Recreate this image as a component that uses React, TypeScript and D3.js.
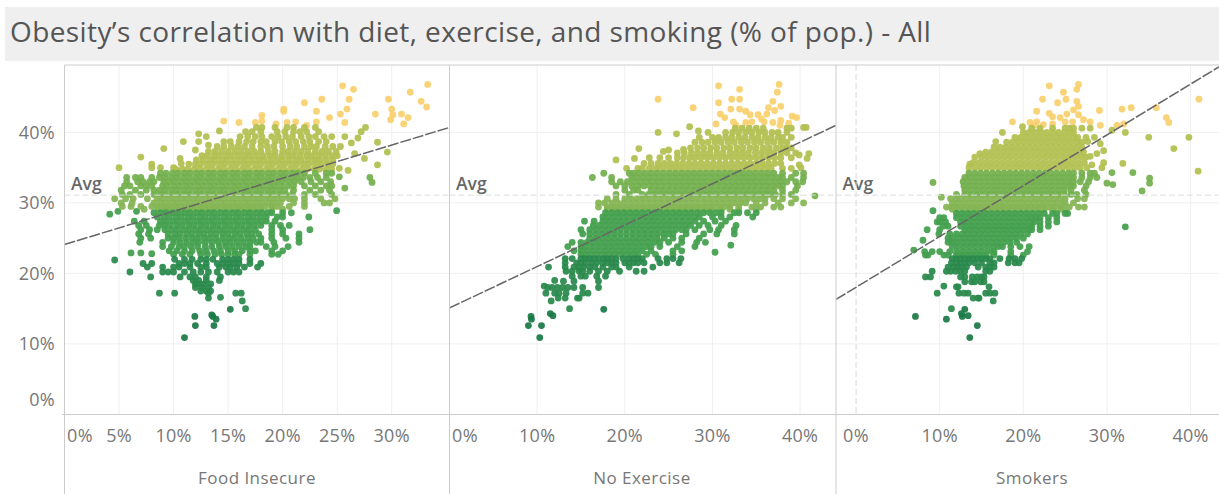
import { scaleLinear, scaleThreshold } from 'd3'

const TITLE = 'Obesity\u2019s correlation with diet, exercise, and smoking (% of pop.) - All'
const Y_TICKS = [0, 10, 20, 30, 40]
const FOOD_TICKS = [0, 5, 10, 15, 20, 25, 30]
const PCT_TICKS = [0, 10, 20, 30, 40]
const AVG_OBESITY = 31.1
const BAND_LIMITS = [15, 22.4, 29, 31, 34.4, 41]
const BAND_COLORS = ['#1c7a47', '#2c8a4d', '#44a04f', '#86b655', '#74b04f', '#b3c052', '#f9d06e']

// [x, obesity] for the scattered counties
const foodSparse = [
  [25.5, 46.6], [26.5, 46.1], [33.3, 46.8], [31.7, 45.7], [32.7, 44.4], [33.2, 43.6], [29.7, 44.7], [26.1, 44.7], [23.6, 44.7], [22, 44.2], [20.1, 43.3], [20.1, 43], [23.1, 43], [25.9, 43.3], [25.3, 42.6], [24.3, 42.1], [28.5, 42.6], [30, 43.3], [30.1, 42.5], [29.9, 41.8], [30.9, 42.6], [31.5, 42.1], [31.1, 41.2], [25.7, 41.4], [18.1, 42.4], [18.1, 41.6], [17.5, 41.4], [14.6, 41.6], [16, 41.4], [19.4, 41.2], [20.4, 41.4], [21.2, 41.5], [22.2, 41], [23.1, 41.5],
  [12.3, 39.8], [14.2, 40.2], [10.9, 38.7], [12.3, 38.7], [13, 39.4], [9.1, 37.7], [7, 36.5], [8, 35.5], [8, 35], [5, 35], [8.8, 35], [10, 35], [10.6, 36.3], [10.7, 35.6], [12, 37.5], [13.2, 38.2], [27.6, 40.7], [27.2, 40.1], [26.9, 39.2], [28.7, 38.6], [29.6, 37.2], [28.7, 35.4], [27.5, 36.3], [26.6, 37], [26.3, 38.5], [25.7, 39.4],
  [4.15, 28.4], [4.9, 28.8], [6.6, 28.8], [24.95, 28.9], [28, 33.6], [28.2, 32.9], [25.7, 32.1], [26, 34.6], [25.2, 34.9], [25.2, 33.7],
  [4.6, 21.9], [6.1, 22.9], [7, 22.9], [8, 22.8], [8.7, 17.2], [10.1, 17.2], [13.2, 17.2], [15.7, 17.2], [16.2, 17.2], [14.3, 16.6], [13.2, 16.5], [16.3, 16.1], [16.6, 15], [15.2, 14.9], [11.95, 13.9], [13.5, 14.1], [13.6, 13.9], [13.9, 13.5], [12, 12.6], [13.7, 12.6], [11, 10.9],
]

// [obesity, x values] for the packed rows
const foodRows: [number, number[]][] = [
  [40.7, [17.6, 18.1, 19.3, 20.4, 21, 22, 23]],
  [40.1, [16.6, 17.2, 18, 19.5, 20.2, 21, 21.6, 22.2, 23.3]],
  [39.4, [16.1, 16.8, 17.5, 18.1, 19, 19.6, 20.3, 20.9, 21.7, 22.4, 23, 23.8, 24.5]],
  [38.7, [14.6, 15.2, 16, 16.7, 17.3, 18, 18.5, 19.3, 19.9, 20.6, 21.2, 21.9, 22.5, 23.3, 24]],
  [38, [14, 14.6, 15.3, 15.9, 16.5, 17.2, 18, 18.6, 19.2, 20, 20.7, 21.3, 22, 22.6, 23.1, 23.9, 24.6, 25.3]],
  [37.3, [13.2, 13.8, 14.4, 15, 15.6, 16.2, 16.8, 17.4, 18, 18.7, 19.3, 20, 20.5, 21.1, 21.7, 22.3, 23, 23.6, 24.2, 24.9]],
  [36.7, [12.6, 13.1, 13.7, 14.2, 14.8, 15.3, 15.9, 16.5, 17, 17.6, 18.2, 18.8, 19.3, 19.9, 20.5, 21, 21.6, 22.2, 22.7, 23.3, 23.9, 24.5, 25]],
  [36.1, [12.1, 12.7, 13.3, 13.8, 14.4, 14.9, 15.5, 16.1, 16.6, 17.2, 17.8, 18.3, 18.9, 19.5, 20, 20.6, 21.2, 21.7, 22.3, 22.9, 23.4, 24, 24.6]],
  [35.5, [11.4, 12, 12.5, 13.1, 13.6, 14.2, 14.7, 15.3, 15.8, 16.4, 16.9, 17.5, 18, 18.6, 19.1, 19.7, 20.2, 20.8, 21.3, 21.9, 22.4, 23, 23.5, 24.1, 24.6]],
  [34.8, [10.2, 10.8, 11.3, 11.9, 12.4, 13, 13.5, 14.1, 14.6, 15.2, 15.7, 16.3, 16.8, 17.4, 17.9, 18.5, 19, 19.6, 20.1, 20.7, 21.2, 21.8, 22.3, 22.9, 23.4, 24, 24.5]],
  [34.2, [8.8, 9.3, 9.9, 10.4, 11, 11.5, 12.1, 12.6, 13.2, 13.7, 14.3, 14.8, 15.4, 15.9, 16.5, 17, 17.6, 18.1, 18.7, 19.2, 19.8, 20.3, 20.9, 21.4, 22, 23, 24, 24.5]],
  [33.6, [5.7, 6.5, 7, 8, 8.7, 9.2, 9.8, 10.3, 10.9, 11.4, 12, 12.5, 13.1, 13.6, 14.2, 14.7, 15.3, 15.8, 16.4, 16.9, 17.5, 18, 18.6, 19.1, 19.7, 20.2, 20.8, 21.3, 21.9, 22.5, 23.2, 24]],
  [33, [5.7, 6.7, 7.2, 7.8, 8.2, 9.1, 9.6, 10.1, 10.7, 11.2, 11.8, 12.3, 12.9, 13.4, 14, 14.5, 15.1, 15.6, 16.2, 16.7, 17.3, 17.8, 18.4, 18.9, 19.5, 20, 20.6, 21.1, 21.7, 22.6, 23.5, 24.4]],
  [32.4, [5.5, 6, 7, 7.5, 8, 9, 9.4, 10, 10.5, 11.1, 11.6, 12.2, 12.7, 13.3, 13.8, 14.4, 14.9, 15.5, 16, 16.6, 17.1, 17.7, 18.2, 18.8, 19.3, 19.9, 20.5, 21, 22, 23, 24, 24.5]],
  [31.8, [5.2, 6.5, 7.5, 8.2, 8.7, 9.2, 9.8, 10.3, 10.9, 11.4, 12, 12.5, 13.1, 13.6, 14.2, 14.7, 15.3, 15.8, 16.4, 16.9, 17.5, 18, 18.6, 19.1, 19.7, 20.2, 21, 22.5, 23.5, 24.3]],
  [31.2, [5.3, 6, 7, 8.2, 8.8, 9.3, 9.9, 10.4, 11, 11.5, 12.1, 12.6, 13.2, 13.7, 14.3, 14.8, 15.4, 15.9, 16.5, 17, 17.6, 18.1, 18.7, 19.2, 19.8, 20.3, 20.9, 22, 23, 24.5]],
  [30.6, [4.6, 5.6, 6.3, 7.6, 8.5, 9, 9.6, 10.1, 10.7, 11.2, 11.8, 12.3, 12.9, 13.4, 14, 14.5, 15.1, 15.6, 16.2, 16.7, 17.3, 17.8, 18.4, 18.9, 19.5, 20, 20.6, 21.1, 22, 23.5, 24.8]],
  [30, [5.2, 6.2, 8.2, 8.8, 9.3, 9.9, 10.4, 11, 11.5, 12.1, 12.6, 13.2, 13.7, 14.3, 14.8, 15.4, 15.9, 16.5, 17, 17.6, 18.1, 18.7, 19.2, 19.8, 21, 22, 23.8, 24.3]],
  [29.5, [5.3, 6.1, 7, 8, 8.5, 9.1, 9.6, 10.2, 10.7, 11.3, 11.8, 12.4, 12.9, 13.5, 14, 14.6, 15.1, 15.7, 16.2, 16.8, 17.3, 17.9, 18.4, 19, 19.5, 20.6, 22]],
  [29.1, [7.3, 8.6, 9.2, 9.7, 10.3, 10.8, 11.4, 11.9, 12.5, 13, 13.6, 14.1, 14.7, 15.2, 15.8, 16.3, 16.9, 17.4, 18, 19, 20]],
  [28.6, [8.2, 8.8, 9.3, 9.9, 10.4, 11, 11.5, 12.1, 12.6, 13.2, 13.7, 14.3, 14.8, 15.4, 15.9, 16.5, 17, 17.6, 18.1, 18.6, 19, 20, 20.8]],
  [28, [8.5, 9.1, 9.6, 10.2, 10.7, 11.3, 11.8, 12.4, 12.9, 13.5, 14, 14.6, 15.1, 15.7, 16.2, 16.8, 17.3, 17.9, 18.5, 19.5, 20, 22.4]],
  [27.4, [6.4, 7.3, 8.8, 9.3, 9.9, 10.4, 11, 11.5, 12.1, 12.6, 13.2, 13.7, 14.3, 14.8, 15.4, 15.9, 16.5, 17, 17.6, 18.1, 18.5, 19.3]],
  [26.8, [6.8, 7.5, 8.7, 9.2, 9.7, 10.3, 10.8, 11.4, 11.9, 12.5, 13, 13.6, 14.1, 14.7, 15.2, 15.8, 16.3, 16.9, 17.4, 18, 19, 19.8, 20.6]],
  [26.2, [7, 7.8, 8.5, 9.2, 9.8, 10.3, 10.9, 11.4, 12, 12.5, 13.1, 13.6, 14.2, 14.7, 15.3, 15.8, 16.4, 16.9, 17.5, 19, 20, 22.5]],
  [25.6, [6.8, 7.7, 9.5, 10.1, 10.6, 11.2, 11.7, 12.3, 12.8, 13.4, 13.9, 14.5, 15, 15.6, 16.1, 16.7, 17.2, 17.8, 19, 20, 21.5]],
  [25, [7, 7.9, 9.5, 10, 10.5, 11.1, 11.7, 12.2, 12.8, 13.3, 13.9, 14.5, 15.1, 15.6, 16.2, 16.8, 17.3, 18, 19, 20.3, 21.5]],
  [24.4, [6.9, 9, 10, 10.6, 11.2, 11.8, 12.3, 12.9, 13.5, 14.1, 14.7, 15.2, 15.8, 16.4, 17, 17.6, 18, 19.2, 21.5]],
  [23.8, [9, 9.8, 10.5, 11, 11.6, 12.2, 12.9, 13.5, 14.2, 14.8, 15.4, 16, 16.6, 17, 18.5, 19.3, 20.5]],
  [23.2, [9.6, 10.3, 11, 11.7, 12.4, 13, 13.7, 14.3, 15, 15.6, 16.3, 17, 17.5, 19, 20]],
  [22.7, [10, 10.8, 11.5, 12.5, 13.1, 13.8, 14.4, 15, 15.6, 16, 17, 19, 19.6]],
  [22, [10.1, 11, 11.7, 12.5, 13, 13.6, 14.5, 15, 15.5, 16, 17]],
  [21.4, [7.2, 8, 10.5, 11, 11.5, 12.2, 13, 14, 14.5, 15, 15.5, 16, 17, 18]],
  [20.9, [7.6, 9, 10, 10.5, 11.5, 12.5, 13, 14.2, 14.8, 15.2, 15.8, 16.5, 17.7]],
  [20.2, [6, 9, 9.5, 10, 11, 11.8, 12.5, 13.2, 14, 15, 15.5, 16]],
  [19.5, [7.9, 10.6, 11.5, 12, 13, 14.3]],
  [19, [11.8, 12.3, 13, 14.2]],
  [18.5, [12, 12.3, 12.8, 13.4]],
  [18, [12, 12.6, 13.2]],
  [17.5, [12.5, 13, 13.4]],
]

const exerciseSparse = [
  [30.7, 46.6], [33.1, 46.1], [37.6, 46.8], [37.4, 45.7], [23.8, 44.7], [30.7, 44.2], [32.2, 44.7], [33.1, 44.7], [36.9, 44.4], [27.8, 43.5], [32.1, 43.3], [33.1, 43.3], [36.4, 43.5], [37.8, 43.7], [37.1, 43.1], [30.9, 42.6], [31.4, 42.1], [33.8, 43], [34.3, 42.5], [35.2, 42.5], [36.2, 42.6], [35.6, 41.9], [32.4, 41.5], [36.9, 41.4], [37.8, 41.7], [39.1, 42.3], [39.6, 42.1], [38.7, 41.3], [30.4, 41.2], [33.8, 41.4], [34.5, 41.5], [35.9, 41.5], [32.7, 41], [37.7, 41],
  [23.8, 40], [25.9, 39.8], [27.4, 40.8], [28.4, 40.2], [40.4, 40.7], [40.7, 40.7], [21.6, 37.7], [19, 36.1], [21.1, 36.3], [20.2, 34.9], [24.4, 37.3], [25, 37.5], [26.7, 37.6], [41, 37], [40.8, 36.3], [39.9, 36.8], [39.9, 35.4], [40.1, 35],
  [41.7, 31], [32.1, 24], [30.3, 23], [11.3, 20.9], [12, 19], [10.8, 18.2], [11.6, 16.1], [13.7, 15], [17.6, 14.9], [11.5, 14.3], [11.8, 14], [9.3, 13.9], [9.35, 13.5], [9, 12.6], [10.5, 12.6], [10.3, 10.9],
]

const exerciseRows: [number, number[]][] = [
  [40.6, [32.6, 33.4, 34.2, 35, 35.8, 38.5, 39]],
  [40, [29.5, 31.5, 32.3, 33, 33.8, 34.5, 35.3, 36, 36.8, 37.5, 38.5]],
  [39.3, [28.5, 30, 30.7, 31.5, 32.2, 33, 33.7, 34.5, 35.2, 36, 36.7, 37.5, 38, 39]],
  [38.6, [28, 28.8, 29.5, 30.3, 31, 31.8, 32.5, 33.3, 34, 34.8, 35.5, 36.3, 37, 37.8, 38.5]],
  [37.8, [27.5, 28.3, 29, 29.8, 30.5, 31.3, 32, 32.8, 33.5, 34.3, 35, 35.8, 36.5, 37.3, 38, 38.5, 39]],
  [37.1, [26, 26.8, 27.6, 28.3, 29, 29.7, 30.5, 31.2, 32, 32.7, 33.4, 34.1, 34.9, 35.6, 36.3, 37, 37.8, 38.5, 39.5]],
  [36.4, [22.8, 24, 25, 26, 26.7, 27.4, 28, 28.7, 29.4, 30.1, 30.8, 31.5, 32.2, 32.9, 33.6, 34.3, 35, 35.7, 36.4, 37.1, 37.8, 39]],
  [35.6, [22.2, 23, 23.8, 24.5, 25.2, 25.9, 26.6, 27.3, 28, 28.7, 29.4, 30.1, 30.8, 31.5, 32.2, 32.9, 33.6, 34.3, 35, 35.7, 36.4, 37.1, 37.8]],
  [34.9, [21.5, 22, 22.8, 23.5, 24.1, 24.8, 25.5, 26.2, 26.9, 27.6, 28.3, 29, 29.7, 30.4, 31.1, 31.8, 32.5, 33.2, 33.9, 34.6, 35.3, 36, 36.7, 38, 39]],
  [34.2, [17.6, 20.5, 21, 21.6, 22.3, 23, 23.7, 24.4, 25.1, 25.8, 26.5, 27.2, 27.9, 28.6, 29.3, 30, 30.7, 31.4, 32.1, 32.8, 33.5, 34.2, 34.9, 35.6, 36.3, 37, 38, 39.5, 40.4]],
  [33.6, [16.3, 18.5, 20.8, 21.4, 22.1, 22.8, 23.5, 24.2, 24.9, 25.6, 26.3, 27, 27.7, 28.4, 29.1, 29.8, 30.5, 31.2, 31.9, 32.6, 33.3, 34, 34.7, 35.4, 36.1, 36.8, 37.5, 38, 39, 40.4]],
  [33, [18.5, 19.5, 20.3, 21, 21.7, 22.4, 23.1, 23.8, 24.5, 25.2, 25.9, 26.6, 27.3, 28, 28.7, 29.4, 30.1, 30.8, 31.5, 32.2, 32.9, 33.6, 34.3, 35, 35.7, 36.4, 37.1, 37.8, 38.5, 39.5, 40.3]],
  [32.4, [19, 20, 20.8, 21.5, 22.2, 22.9, 23.6, 24.3, 25, 25.7, 26.4, 27.1, 27.8, 28.5, 29.2, 29.9, 30.6, 31.3, 32, 32.7, 33.4, 34.1, 34.8, 35.5, 36.2, 36.9, 37.6, 38, 39.7]],
  [31.8, [20, 21, 21.5, 23, 23.7, 24.4, 25.1, 25.8, 26.5, 27.2, 27.9, 28.6, 29.3, 30, 30.7, 31.4, 32.1, 32.8, 33.5, 34.2, 34.9, 35.6, 36.3, 37, 38, 39.5]],
  [31.2, [19, 20.5, 22, 22.7, 23.4, 24.1, 24.8, 25.5, 26.2, 26.9, 27.6, 28.3, 29, 29.7, 30.4, 31.1, 31.8, 32.5, 33.2, 33.9, 34.6, 35.3, 36, 36.5, 37.2, 38, 39]],
  [30.6, [18, 19, 20, 20.7, 21.4, 22.1, 22.8, 23.5, 24.2, 24.9, 25.6, 26.3, 27, 27.7, 28.4, 29.1, 29.8, 30.5, 31.2, 31.9, 32.6, 33.3, 34, 34.7, 35.4, 36, 37, 38, 39.5]],
  [30, [17, 17.7, 18.5, 19.2, 19.9, 20.6, 21.3, 22, 22.7, 23.4, 24.1, 24.8, 25.5, 26.2, 26.9, 27.6, 28.3, 29, 29.7, 30.4, 31.1, 31.8, 32.5, 33.2, 33.8, 35, 36, 37.5, 39, 40.4]],
  [29.4, [17, 18, 18.7, 19.4, 20.1, 20.8, 21.5, 22.2, 22.9, 23.6, 24.3, 25, 25.7, 26.4, 27.1, 27.8, 28.5, 29.2, 29.9, 30.6, 31.3, 32, 33, 34.5, 35.5, 37, 37.8]],
  [29.1, [18, 18.7, 19.4, 20.1, 20.8, 21.5, 22.2, 22.9, 23.6, 24.3, 25, 25.7, 26.4, 27.1, 27.8, 28.5, 29.2, 29.9, 31, 32, 33, 35]],
  [28.6, [17.8, 18.5, 19.2, 19.9, 20.6, 21.3, 22, 22.7, 23.4, 24.1, 24.8, 25.5, 26.2, 26.9, 27.6, 28.3, 29, 29.7, 30.4, 31, 32.5, 33, 34, 35]],
  [28, [17.5, 18.1, 18.8, 19.5, 20.2, 20.9, 21.6, 22.3, 23, 23.7, 24.4, 25.1, 25.8, 26.5, 27.2, 27.9, 28.5, 30, 31, 32, 34.6]],
  [27.4, [15.4, 16.5, 17.5, 18.2, 18.9, 19.6, 20.3, 21, 21.7, 22.4, 23.1, 23.8, 24.5, 25.2, 25.9, 26.6, 27.3, 28, 29, 30.3, 31.5]],
  [26.8, [16.4, 17.1, 17.8, 18.5, 19.2, 19.9, 20.6, 21.3, 22, 22.7, 23.4, 24.1, 24.8, 25.5, 26.2, 26.9, 27.5, 28.5, 29.5, 31, 32.7]],
  [26.2, [15, 16, 16.7, 17.4, 18.1, 18.8, 19.5, 20.2, 20.9, 21.6, 22.3, 23, 23.7, 24.4, 25.1, 25.8, 26.5, 27, 28, 29.7, 30.7, 32.5]],
  [25.6, [15.2, 16, 16.7, 17.4, 18.1, 18.8, 19.5, 20.2, 20.9, 21.6, 22.3, 23, 23.7, 24.4, 25, 25.5, 27, 29, 30.5, 32.5]],
  [25, [16, 16.7, 17.4, 18.1, 18.8, 19.5, 20.2, 20.9, 21.6, 22.3, 23, 23.7, 24.5, 25.5, 26.5, 28.5]],
  [24.4, [14, 15, 15.7, 16.4, 17.1, 17.8, 18.5, 19.2, 19.9, 20.6, 21.3, 22, 22.7, 23.4, 24, 25, 26.5, 28.2, 29.2]],
  [23.8, [13.5, 15, 15.5, 16.2, 16.9, 17.6, 18.3, 19, 19.7, 20.4, 21.1, 21.8, 22.5, 23, 24, 26, 28]],
  [23.2, [14.2, 15, 15.7, 16.4, 17.1, 17.8, 18.5, 19.2, 19.9, 20.6, 21.3, 22, 23, 25.5, 26.5]],
  [22.7, [15, 15.5, 16.1, 16.8, 17.5, 18.2, 18.9, 19.6, 20.3, 21, 21.5, 22.5, 23.5, 25.5]],
  [22.1, [13.2, 14, 15, 15.5, 16, 16.5, 17, 17.6, 18, 18.5, 19, 19.8, 20.5, 21, 21.5, 22, 23.8, 24.8, 25.5, 26.4]],
  [21.5, [13.2, 14.5, 15, 15.5, 16.2, 16.8, 17.5, 18, 18.5, 19, 20, 20.5, 21, 21.5, 22.2, 24, 24.8, 26.2]],
  [20.9, [13.2, 14.2, 14.7, 15.3, 16, 16.6, 17.5, 18.5, 19, 20.5, 23.2]],
  [20.3, [13.3, 14, 14.8, 15.2, 16, 17, 18, 19.4, 21.3, 22.2]],
  [19.6, [14, 15, 15.5, 16.8, 17.8]],
  [18.9, [13, 14.2, 17]],
  [18, [11.2, 11.7, 12.3, 12.9, 13.5, 14.2, 15.2, 17]],
  [17.2, [11, 12, 12.5, 13.3, 15.2, 15.8]],
  [16.5, [12.4, 13.2, 14.6, 14.8]],
]

const smokersSparse = [
  [23.1, 46.6], [26.6, 46.8], [26.4, 46.1], [24.8, 45.7], [22.3, 44.7], [25.1, 44.7], [24.1, 44.2], [26.4, 44.4], [26.6, 43.7], [21.6, 43], [26, 43.2], [29.1, 43.1], [31.8, 43.3], [32.9, 43.5], [35.9, 43.5], [41, 44.7], [37.1, 42.1], [37.4, 41.4], [23.1, 42.7], [23.5, 42.2], [25.2, 42.6], [26.6, 42.5], [24.4, 42.1], [27.2, 41.8], [28, 41.5], [18.7, 41.5], [20.8, 41.4], [21.6, 41.5], [21.3, 41], [23.5, 41.2], [25, 41.5], [25.9, 41.5], [29.2, 41], [31.2, 41], [32, 41.2], [22.4, 41.1],
  [17.5, 40], [16.7, 38.7], [19.9, 40.8], [32.2, 40], [35, 39.3], [39.8, 39.3], [38, 37.7], [31.9, 35.6], [29.6, 37.4], [29.2, 38.4], [28.5, 39.3], [27.5, 39.3], [27.7, 38.7], [30.6, 40.3], [29.4, 35], [29.6, 35.7], [28.2, 35.4], [28, 36.6], [28.8, 37], [14.8, 37], [13.6, 35.5], [40.9, 34.5],
  [30.6, 34.3], [33.1, 34.3], [35.1, 33.5], [35.1, 32.8], [9.2, 32.9], [30, 32.8], [30.7, 32.6], [34.2, 31.7], [10.2, 30.8], [9.2, 28.9], [32.2, 26.6], [8, 24.7], [6.9, 23.3],
  [10.5, 18.2], [9.7, 17.2], [16.4, 16.1], [11.4, 15], [13, 14.9], [12.6, 14.3], [13.4, 14], [12.7, 13.9], [7.1, 13.9], [10.8, 13.5], [14.5, 12.6], [13.6, 10.9],
]

const smokersRows: [number, number[]][] = [
  [40.6, [21, 22, 23.5, 25, 25.5, 26, 27, 28]],
  [40, [20, 20.7, 21.4, 22.1, 22.8, 23.5, 24.2, 24.9, 25.6, 26]],
  [39.3, [19, 19.7, 20.4, 21.1, 21.8, 22.5, 23.2, 23.9, 24.6, 25.3, 26, 26.5]],
  [38.6, [18, 18.7, 19.4, 20.1, 20.8, 21.5, 22.2, 22.9, 23.6, 24.3, 25, 25.7, 26.4, 27]],
  [37.9, [16.5, 17.2, 17.9, 18.6, 19.3, 20, 20.7, 21.4, 22.1, 22.8, 23.5, 24.2, 24.9, 25.6, 26.3, 27]],
  [37.2, [15.5, 16.2, 16.9, 17.6, 18.3, 19, 19.7, 20.4, 21.1, 21.8, 22.5, 23.2, 23.9, 24.6, 25.3, 26, 26.7, 27.2]],
  [36.5, [14.2, 15, 15.7, 16.4, 17.1, 17.8, 18.5, 19.2, 19.9, 20.6, 21.3, 22, 22.7, 23.4, 24.1, 24.8, 25.5, 26.2, 26.9, 27.5]],
  [35.7, [14, 14.7, 15.4, 16.1, 16.8, 17.5, 18.2, 18.9, 19.6, 20.3, 21, 21.7, 22.4, 23.1, 23.8, 24.5, 25.2, 25.9, 26.6, 27.3]],
  [35, [13.5, 14.2, 14.9, 15.6, 16.3, 17, 17.7, 18.4, 19.1, 19.8, 20.5, 21.2, 21.9, 22.6, 23.3, 24, 24.7, 25.4, 26.1, 26.8, 27.6]],
  [34.2, [13.5, 14.2, 14.9, 15.6, 16.3, 17, 17.7, 18.4, 19.1, 19.8, 20.5, 21.2, 21.9, 22.6, 23.3, 24, 24.7, 25.4, 26, 27, 28, 28.5]],
  [33.6, [13, 13.6, 14.3, 15, 15.7, 16.4, 17.1, 17.8, 18.5, 19.2, 19.9, 20.6, 21.3, 22, 22.7, 23.4, 24.1, 24.8, 25.5, 26, 27, 28, 28.8]],
  [33, [12.8, 13.5, 14.2, 14.9, 15.6, 16.3, 17, 17.7, 18.4, 19.1, 19.8, 20.5, 21.2, 21.9, 22.6, 23.3, 24, 24.7, 25.4, 26, 26.8, 27.8]],
  [32.4, [12.9, 13.6, 14.3, 15, 15.7, 16.4, 17.1, 17.8, 18.5, 19.2, 19.9, 20.6, 21.3, 22, 22.7, 23.4, 24.1, 24.8, 25.5, 26, 27.5]],
  [31.8, [13, 13.7, 14.4, 15.1, 15.8, 16.5, 17.2, 17.9, 18.6, 19.3, 20, 20.7, 21.4, 22.1, 22.8, 23.5, 24.2, 24.9, 25.7, 27.3]],
  [31.2, [12, 13, 13.7, 14.4, 15.1, 15.8, 16.5, 17.2, 17.9, 18.6, 19.3, 20, 20.7, 21.4, 22.1, 22.8, 23.5, 24.2, 24.9, 25.7, 26.4, 27.5]],
  [30.6, [11.3, 12, 12.5, 13.2, 13.9, 14.6, 15.3, 16, 16.7, 17.4, 18.1, 18.8, 19.5, 20.2, 20.9, 21.6, 22.3, 23, 23.7, 24.4, 25, 26.5, 27.3]],
  [30, [11.5, 12.1, 12.8, 13.5, 14.2, 14.9, 15.6, 16.3, 17, 17.7, 18.4, 19.1, 19.8, 20.5, 21.2, 21.9, 22.6, 23.3, 24, 24.7, 25, 26]],
  [29.4, [10.8, 11.4, 11.9, 12.6, 13.3, 14, 14.7, 15.4, 16.1, 16.8, 17.5, 18.2, 18.9, 19.6, 20.3, 21, 21.7, 22.4, 23.1, 23.8, 24.5, 25.5, 26.6, 27.3]],
  [29.1, [11.5, 12.2, 12.9, 13.6, 14.3, 15, 15.7, 16.4, 17.1, 17.8, 18.5, 19.2, 19.9, 20.6, 21.3, 22, 22.5, 23.5, 24.5, 25]],
  [28.5, [12, 12.7, 13.4, 14.1, 14.8, 15.5, 16.2, 16.9, 17.6, 18.3, 19, 19.7, 20.4, 21.1, 21.8, 22.5, 23.5, 24, 25, 25.3]],
  [27.9, [10, 10.5, 12, 12.7, 13.4, 14.1, 14.8, 15.5, 16.2, 16.9, 17.6, 18.3, 19, 19.7, 20.4, 21, 21.5, 22, 23, 24]],
  [27.3, [9.7, 10, 10.7, 12.5, 13.2, 13.9, 14.6, 15.3, 16, 16.7, 17.4, 18.1, 18.8, 19.5, 20.2, 20.9, 21.3, 22, 23, 24]],
  [26.7, [10.4, 11, 12.5, 13.1, 13.8, 14.5, 15.2, 15.9, 16.6, 17.3, 18, 18.7, 19.4, 20.1, 20.8, 21, 22, 23]],
  [26.2, [8.5, 10, 13, 13.7, 14.4, 15.1, 15.8, 16.5, 17.2, 17.9, 18.6, 19.3, 20, 20.7, 21, 22]],
  [25.6, [9.9, 11.2, 12, 12.7, 13.4, 14.1, 14.8, 15.5, 16.2, 16.9, 17.6, 18.3, 19, 19.7, 20.5]],
  [25, [11, 11.5, 12.2, 12.9, 13.6, 14.3, 15, 15.7, 16.4, 17.1, 17.8, 18.5, 19.2, 20]],
  [24.4, [11, 11.5, 12.1, 12.8, 13.5, 14.2, 14.9, 15.6, 16.3, 17, 17.7, 18.4, 19.2]],
  [23.8, [11.5, 12.2, 12.9, 13.6, 14.3, 15, 15.7, 16.4, 17, 17.5, 18.5, 19.6, 20.7]],
  [23.1, [8.2, 9.1, 10, 11.2, 12, 12.7, 13.4, 14.1, 14.8, 15.5, 16.2, 16.5, 18.5, 20.5]],
  [22.6, [8.3, 8.6, 10.5, 11, 12, 12.7, 13.4, 14.1, 14.8, 15.5, 16.5, 18.5, 20]],
  [22.1, [11.5, 12, 12.5, 13, 13.5, 14, 14.5, 15, 15.5, 16, 17.2, 18.3, 19, 19.8]],
  [21.5, [11.4, 12, 12.5, 13, 13.5, 14.2, 15, 16, 16.5, 18.2, 19, 19.5]],
  [20.9, [11, 11.6, 12.1, 12.6, 13.2, 14.6, 15.5, 16, 16.5]],
  [20.3, [9.1, 10.8, 11.3, 11.9, 12.5, 13, 15.5, 16]],
  [19.5, [8.3, 8.9, 12.5, 13, 13.9, 14.5, 15, 15.3]],
  [18.8, [13, 13.8, 14.2, 14.9, 15.3]],
  [18.1, [12, 12.2, 15.9]],
  [17.2, [12.3, 12.9, 13.4, 15.5, 16, 16.6]],
  [16.5, [14, 14.6, 14.7]],
]

const flatten = (sparse: number[][], rows: [number, number[]][]) => [
  ...sparse.map(([x, y]) => ({ x, y })),
  ...rows.flatMap(([y, xs]) => xs.map((x) => ({ x, y }))),
]

const FONT = '"Open Sans", sans-serif'
const top = 65
const axisY = 414.5

const yScale = scaleLinear().domain([0, 49.5]).range([414.4, 65.4])
const color = scaleThreshold<number, string>().domain(BAND_LIMITS).range(BAND_COLORS)

const panels = [
  {
    id: 'food',
    label: 'Food Insecure',
    ticks: FOOD_TICKS,
    left: 64.5,
    right: 449.5,
    xDomain: [0, 35.3],
    points: flatten(foodSparse, foodRows),
    trend: [24.1, 40.7],
    firstLabelX: 80,
    labelX: 257,
  },
  {
    id: 'exercise',
    label: 'No Exercise',
    ticks: PCT_TICKS,
    left: 449.5,
    right: 836,
    xDomain: [0, 44.1],
    points: flatten(exerciseSparse, exerciseRows),
    trend: [15.1, 41],
    firstLabelX: 465,
    labelX: 642,
  },
  {
    id: 'smokers',
    label: 'Smokers',
    ticks: PCT_TICKS,
    left: 836,
    right: 1219,
    xDomain: [-2.4, 43.4],
    points: flatten(smokersSparse, smokersRows),
    trend: [16.3, 49.3],
    firstLabelX: 856,
    labelX: 1032,
  },
]

const smokersX = scaleLinear().domain(panels[2].xDomain).range([836, 1219])

export default function App() {
  return (
    <svg width={1219} height={494} style={{ position: 'absolute', left: 0, top: 0, background: '#fff' }} fontFamily={FONT}>
      <defs>
        <filter id='soft' x='0' y='0' width='100%' height='100%'>
          <feGaussianBlur stdDeviation={0.55} />
        </filter>
      </defs>
      <rect x={5} y={7} width={1214} height={54} fill='#efefef' />
      <text x={10} y={42} fontSize={28} letterSpacing={0.4} fill='#555'>{TITLE}</text>

      {/* shared y grid */}
      {Y_TICKS.filter((d) => d > 0).map((d) => (
        <line key={d} x1={64.5} x2={1219} y1={yScale(d)} y2={yScale(d)} stroke='#efefef' />
      ))}
      {Y_TICKS.map((d) => (
        <text
          key={d}
          x={55}
          y={d === 0 ? 400 : yScale(d)}
          dy='0.36em'
          textAnchor='end'
          fontSize={18}
          letterSpacing={0.3}
          fill='#777'
        >
          {d}%
        </text>
      ))}

      {panels.map((p) => {
        const x = scaleLinear().domain(p.xDomain).range([p.left, p.right])
        return (
          <g key={p.id}>
            {p.ticks.filter((d) => d > 0).map((d) => (
              <line key={d} x1={x(d)} x2={x(d)} y1={top} y2={axisY} stroke='#efefef' />
            ))}
            <g filter='url(#soft)'>
              {p.points.map((d, i) => (
                <circle key={i} cx={x(d.x)} cy={yScale(d.y)} r={3.4} fill={color(d.y)} fillOpacity={0.94} />
              ))}
            </g>
            <line
              x1={p.left}
              x2={p.right}
              y1={yScale(AVG_OBESITY)}
              y2={yScale(AVG_OBESITY)}
              stroke='#dcdcdc'
              strokeDasharray='6 3'
            />
            <line
              x1={p.left}
              x2={p.right}
              y1={yScale(p.trend[0])}
              y2={yScale(p.trend[1])}
              stroke='#666'
              strokeWidth={1.5}
              strokeDasharray='11 2'
            />
            <text x={p.left + 6.5} y={190} fontSize={17.5} fontWeight={600} fill='#666'>Avg</text>
            {p.ticks.map((d) => (
              <text
                key={d}
                x={d === 0 ? p.firstLabelX : x(d)}
                y={436}
                dy='0.36em'
                textAnchor='middle'
                fontSize={18}
                letterSpacing={0.3}
                fill='#777'
              >
                {d}%
              </text>
            ))}
            <text x={p.labelX} y={478} dy='0.36em' textAnchor='middle' fontSize={17} letterSpacing={0.45} fill='#777'>{p.label}</text>
            <line x1={p.left} x2={p.left} y1={top} y2={494} stroke='#ccc' />
          </g>
        )
      })}

      {/* zero reference of the smokers panel */}
      <line x1={smokersX(0)} x2={smokersX(0)} y1={top} y2={axisY} stroke='#d8d8d8' strokeDasharray='6 3' />
      <line x1={64.5} x2={1219} y1={top} y2={top} stroke='#ccc' />
      <line x1={62} x2={1219} y1={axisY} y2={axisY} stroke='#ccc' />
    </svg>
  )
}
